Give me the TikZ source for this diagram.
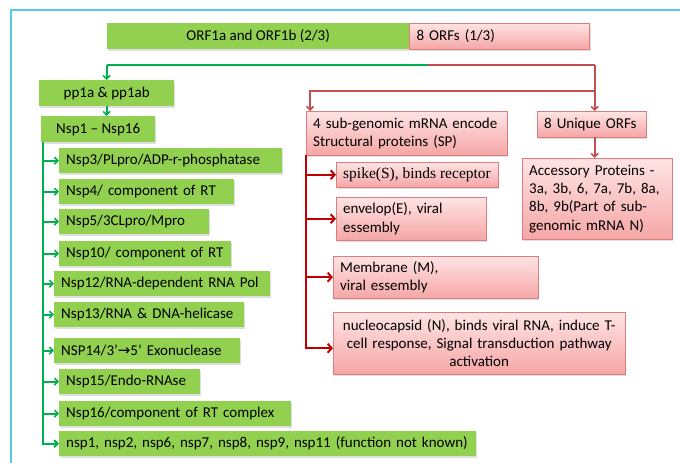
\documentclass[tikz,border=0pt]{standalone}
\usepackage{fontspec}
\setmainfont{Carlito}
\newfontfamily\serifbox{Liberation Serif}
\newfontfamily\arrowfont{DejaVu Sans}
\usepackage{tikz}
\usetikzlibrary{arrows.meta, positioning, shadows}
\definecolor{leafgreen}{HTML}{92D050}
\definecolor{linkgreen}{HTML}{00B050}
\definecolor{pinktop}{HTML}{FFE4E4}
\definecolor{pinkbot}{HTML}{F5A6A6}
\definecolor{pinkline}{HTML}{DC7C7C}
\definecolor{mutedred}{HTML}{C0504D}
\definecolor{darkred}{HTML}{C00000}
\definecolor{framecyan}{HTML}{5DC9E8}

% one justified line of the accessory box
\newcommand{\jline}[1]{\makebox[136pt][s]{#1}}

\begin{document}
\begin{tikzpicture}[x=1pt, y=1pt,
    every node/.style={font=\fontsize{15}{18.3}\selectfont, text=black},
    gbox/.style={rectangle, fill=leafgreen, inner xsep=7pt, inner ysep=2pt,
                 minimum height=25pt,
                 drop shadow={shadow xshift=1pt, shadow yshift=-1.5pt, opacity=0.25}},
    pbox/.style={rectangle, draw=pinkline, top color=pinktop, bottom color=pinkbot,
                 inner xsep=7pt, inner ysep=2pt, minimum height=25pt,
                 drop shadow={shadow xshift=1pt, shadow yshift=-1.5pt, opacity=0.25}},
    gitem/.style={gbox, anchor=north west, text width=#1pt, align=left},
    pitem/.style={pbox, anchor=north west, text width=#1pt, align=left},
    gline/.style={linkgreen, line width=2pt},
    garrow/.style={-{Straight Barb[length=3.5pt, width=7pt]}, linkgreen, line width=1.6pt},
    rline/.style={mutedred, line width=2pt},
    rarrow/.style={-{Straight Barb[length=3.5pt, width=7pt]}, mutedred, line width=1.6pt},
    sparrow/.style={-{Straight Barb[length=4pt, width=9pt]}, darkred, line width=2pt}
]
\useasboundingbox (0,0) rectangle (680,-463);

% --- Frame ---
\draw[framecyan, line width=1.5pt] (11,-463) -- (11,-10) -- (680,-10);

% --- Genome bar ---
\node[gbox, anchor=north west, minimum width=302pt, minimum height=26pt] (orfab) at (107,-23) {ORF1a and ORF1b (2/3)};
\node[pbox, right=0pt of orfab, text width=166pt, minimum height=26pt] (orfs) {8 ORFs (1/3)};

% --- Non-structural side ---
\node[gbox, anchor=north west, minimum width=135pt, minimum height=26pt] (pp) at (39,-80) {pp1a \& pp1ab};
\node[gbox, anchor=north west, minimum width=114pt, minimum height=26pt] (nsp) at (41,-116) {Nsp1 -- Nsp16};

\node[gitem=209] (nspthree) at (59,-148) {Nsp3/PLpro/ADP-r-phosphatase};
\node[gitem=161] (nspfour) at (59,-179) {Nsp4/ component of RT};
\node[gitem=136] (nspfive) at (59,-209) {Nsp5/3CLpro/Mpro};
\node[gitem=158] (nspten) at (59,-241) {Nsp10/ component of RT};
\node[gitem=202] (nsptwelve) at (54,-271) {Nsp12/RNA-dependent RNA Pol};
\node[gitem=176] (nspthirteen) at (54,-302) {Nsp13/RNA \& DNA-helicase};
\node[gitem=172] (nspfourteen) at (54,-338) {NSP14/3’{\arrowfont\fontsize{15}{18}\selectfont→}5’ Exonuclease};
\node[gitem=127] (nspfifteen) at (59,-369) {Nsp15/Endo-RNAse};
\node[gitem=218] (nspsixteen) at (59,-401) {Nsp16/component of RT complex};
\node[gitem=403] (nspother) at (59,-431) {nsp1, nsp2, nsp6, nsp7, nsp8, nsp9, nsp11 (function not known)};

% --- Structural / accessory side ---
\node[pitem=187, minimum height=44pt] (sgm) at (306,-111) {4 sub-genomic mRNA encode\\Structural proteins (SP)};
\node[pitem=95, minimum height=26pt] (uorf) at (537,-111) {8 Unique ORFs};
\node[pitem=136, minimum height=81pt] (acc) at (522,-158) {\jline{Accessory Proteins -}\\\jline{3a, 3b, 6, 7a, 7b, 8a,}\\\jline{8b, 9b(Part of sub-}\\genomic mRNA N)};

\node[pbox, anchor=north west, minimum width=161pt, font=\fontsize{15.5}{18.3}\selectfont\serifbox] (spike) at (336,-162) {spike(S), binds receptor};
\node[pitem=136, minimum height=43pt] (env) at (336,-197) {envelop(E), viral\\essembly};
\node[pitem=191, minimum height=42pt] (mem) at (333,-256) {Membrane (M),\\viral essembly};
\node[pbox, anchor=north west, text width=278pt, align=center, minimum height=62pt] (nuc) at (333,-312) {nucleocapsid (N), binds viral RNA, induce T-\\cell response, Signal transduction pathway\\activation};

% --- Split below the genome bar ---
\coordinate (brL) at (pp.north |- 0,-65);
\coordinate (brM) at (428,-65);
\coordinate (brR) at ([xshift=3pt]uorf.north |- brL);
\coordinate (brS) at (brR |- 0,-91);
\draw[gline] (brL) -- (brM);
\draw[rline] (brM) -- (brR);
\draw[garrow] (brL) -- (pp.north);
\draw[rarrow] (brR) -- (brR |- uorf.north);
\draw[rarrow] (brS) -| ([xshift=4pt]sgm.north west);
\draw[rarrow] (brR |- uorf.south) -- (brR |- acc.north);

% --- Green tree ---
\draw[garrow] (pp.south) -- (pp.south |- nsp.north);
\coordinate (trunk) at ([xshift=2pt]nsp.south west);
\draw[garrow, line width=2pt] (trunk) |- (nspother.west);
\draw[garrow] (trunk |- nspthree.west) -- (nspthree.west);
\draw[garrow] (trunk |- nspfour.west) -- (nspfour.west);
\draw[garrow] (trunk |- nspfive.west) -- (nspfive.west);
\draw[garrow] (trunk |- nspten.west) -- (nspten.west);
\draw[garrow] (trunk |- nsptwelve.west) -- (nsptwelve.west);
\draw[garrow] (trunk |- nspthirteen.west) -- (nspthirteen.west);
\draw[garrow] (trunk |- nspfourteen.west) -- (nspfourteen.west);
\draw[garrow] (trunk |- nspfifteen.west) -- (nspfifteen.west);
\draw[garrow] (trunk |- nspsixteen.west) -- (nspsixteen.west);

% --- Red tree ---
\coordinate (sptrunk) at (sgm.south west);
\draw[sparrow] (sptrunk) |- ([yshift=-5pt]nuc.west);
\draw[sparrow] (sptrunk |- spike.west) -- (spike.west);
\draw[sparrow] (sptrunk |- env.west) -- (env.west);
\draw[sparrow] (sptrunk |- mem.west) -- (mem.west);

\end{tikzpicture}
\end{document}
